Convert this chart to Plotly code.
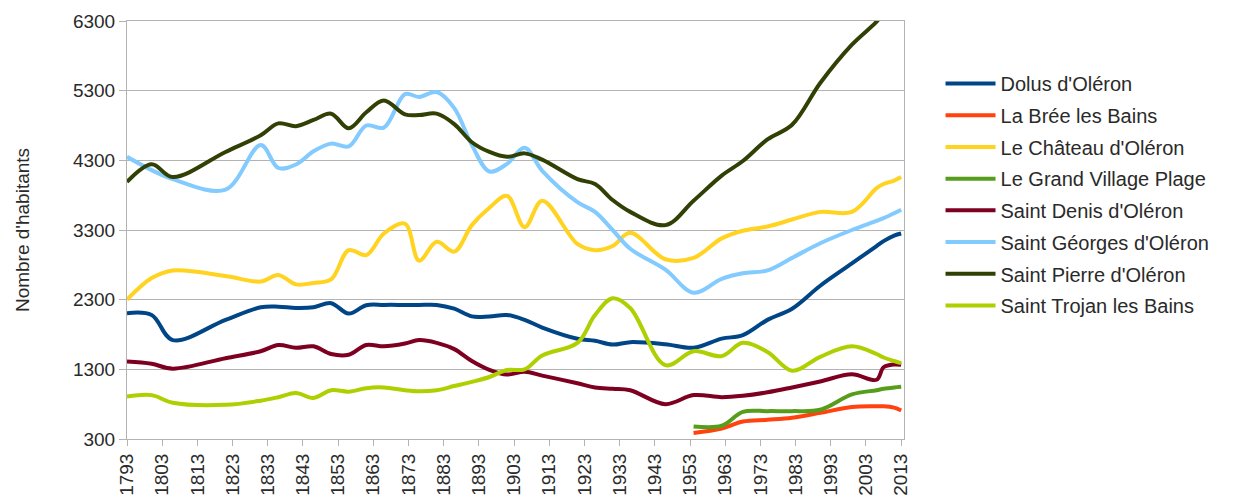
import plotly.graph_objects as go

years = [1793, 1800, 1806, 1821, 1831, 1836, 1841, 1846, 1851, 1856, 1861, 1866,
         1872, 1876, 1881, 1886, 1891, 1896, 1901, 1906, 1911, 1921, 1926, 1931,
         1936, 1946, 1954, 1962, 1968, 1975, 1982, 1990, 1999, 2006, 2008, 2011, 2013]

dolus = [2106, 2080, 1720, 2010, 2190, 2200, 2180, 2190, 2250, 2100, 2220, 2225,
         2225, 2225, 2225, 2170, 2060, 2060, 2080, 2010, 1900, 1740, 1710, 1655,
         1690, 1660, 1610, 1740, 1790, 2010, 2170, 2500, 2820, 3070, 3140, 3220, 3250]
la_bree = [None] * 26 + [385, 450, 550, 575, 605, 675, 760, 770, 770, 750, 710]
chateau = [2300, 2610, 2720, 2640, 2560, 2655, 2520, 2540, 2590, 3010, 2940, 3250,
           3390, 2860, 3130, 2990, 3370, 3620, 3790, 3340, 3720, 3100, 3010, 3070,
           3260, 2880, 2900, 3180, 3290, 3350, 3450, 3560, 3560, 3900, 3960, 4010, 4060]
grand_village = [None] * 26 + [480, 490, 690, 700, 700, 720, 940, 1000, 1020, 1040, 1050]
saint_denis = [1412, 1380, 1310, 1460, 1560, 1650, 1610, 1630, 1520, 1510, 1650, 1630,
               1670, 1720, 1680, 1590, 1420, 1293, 1225, 1265, 1210, 1100, 1040, 1020,
               1000, 800, 930, 900, 920, 970, 1040, 1126, 1230, 1150, 1330, 1370, 1365]
saint_georges = [4350, 4160, 4030, 3880, 4520, 4190, 4240, 4430, 4540, 4500, 4800, 4770,
                 5250, 5210, 5280, 5050, 4520, 4140, 4250, 4480, 4150, 3700, 3560, 3300,
                 3030, 2730, 2400, 2600, 2680, 2720, 2900, 3110, 3300, 3430, 3470, 3540, 3590]
saint_pierre = [3990, 4245, 4060, 4420, 4660, 4830, 4790, 4880, 4970, 4760, 4990, 5160,
                4960, 4950, 4970, 4820, 4560, 4420, 4350, 4400, 4310, 4030, 3960, 3730,
                3560, 3370, 3720, 4080, 4290, 4600, 4810, 5410, 5960, 6290, 6420, 6600, 6700]
saint_trojan = [910, 930, 820, 790, 850, 900, 960, 890, 1000, 980, 1030, 1040,
                1000, 985, 1000, 1060, 1120, 1190, 1290, 1300, 1500, 1680, 2080, 2320,
                2180, 1360, 1560, 1490, 1680, 1550, 1280, 1480, 1630, 1520, 1470, 1420, 1390]

series_names = ["Dolus d'Oléron", "La Brée les Bains", "Le Château d'Oléron",
                "Le Grand Village Plage", "Saint Denis d'Oléron", "Saint Géorges d'Oléron",
                "Saint Pierre d'Oléron", "Saint Trojan les Bains"]
series_values = [dolus, la_bree, chateau, grand_village, saint_denis,
                 saint_georges, saint_pierre, saint_trojan]
colors = ["#004586", "#ff420e", "#ffd320", "#579d1c", "#7e0021",
          "#83caff", "#314004", "#aecf00"]

x_ticks = list(range(1793, 2014, 10))
y_ticks = list(range(300, 6301, 1000))

fig = go.Figure()
for i, (name, vals, col) in enumerate(zip(series_names, series_values, colors)):
    fig.add_trace(go.Scatter(
        x=years, y=vals, name=name, mode="lines",
        line=dict(color=col, width=4, shape="spline", smoothing=1.0),
        connectgaps=False, legendgroup=f"g{i}",
    ))

font_family = "Liberation Sans, Arial, sans-serif"
text_col = "#2a2a2a"
fig.update_layout(
    width=1233, height=502,
    margin=dict(l=119, r=337, t=13, b=71, autoexpand=False),
    paper_bgcolor="white", plot_bgcolor="white",
    font=dict(family=font_family, size=19, color=text_col),
    showlegend=True,
    legend=dict(
        x=1.047, xanchor="left", y=0.897, yanchor="top",
        font=dict(size=20, color=text_col),
        tracegroupgap=2.7, itemwidth=50,
        bgcolor="rgba(0,0,0,0)",
    ),
    xaxis=dict(
        range=[1793, 2013.8], tickmode="array", tickvals=x_ticks,
        ticktext=[str(v) for v in x_ticks], tickangle=-90,
        showgrid=False, showline=True, linecolor="#b3b3b3", linewidth=1,
        mirror=True, ticks="outside", ticklen=6, tickcolor="#b3b3b3",
        tickfont=dict(size=19, color=text_col), zeroline=False,
        automargin=False,
    ),
    yaxis=dict(
        range=[300, 6300], tickmode="array", tickvals=y_ticks,
        ticktext=[str(v) for v in y_ticks],
        showgrid=True, gridcolor="#b3b3b3", gridwidth=1,
        showline=True, linecolor="#b3b3b3", linewidth=1, mirror=True,
        ticks="outside", ticklen=7, tickcolor="#b3b3b3",
        tickfont=dict(size=19, color=text_col), zeroline=False,
        automargin=False,
        title=dict(text="Nombre d'habitants", font=dict(size=19, color=text_col), standoff=38),
    ),
)

fig.write_html("out.html")
